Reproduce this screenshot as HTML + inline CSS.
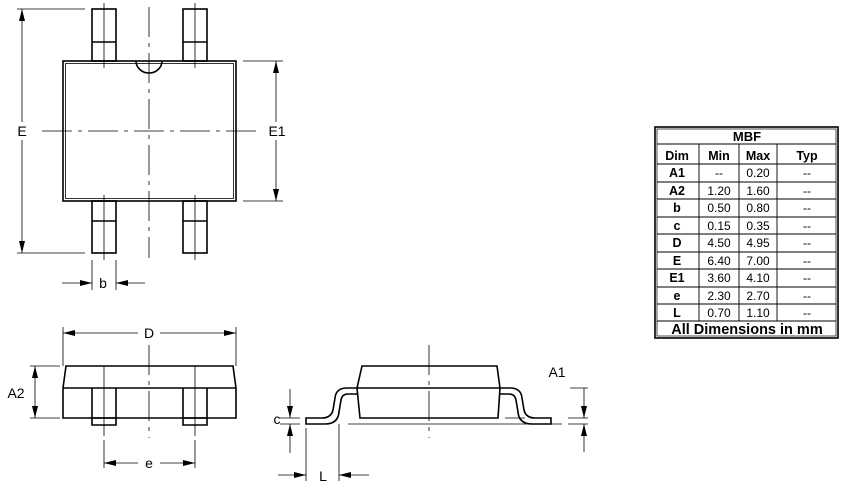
<!DOCTYPE html>
<html><head><meta charset="utf-8"><style>
html,body{margin:0;padding:0;background:#fff;}
svg{display:block;font-family:"Liberation Sans",Arial,sans-serif;}
</style></head><body>
<svg width="850" height="487" viewBox="0 0 850 487" xmlns="http://www.w3.org/2000/svg">
<defs>
<marker id="ar" viewBox="0 0 12 6" refX="12" refY="3" markerWidth="12" markerHeight="6" orient="auto" markerUnits="userSpaceOnUse"><path d="M0,0 L12,3 L0,6 Z" fill="#000"/></marker>
</defs>
<g stroke="#000" fill="none">
<g stroke-width="1.6">
<rect x="63" y="61" width="173" height="140"/>
<rect x="92" y="9" width="24" height="52"/><line x1="92" y1="42" x2="116" y2="42"/>
<rect x="183" y="9" width="24" height="52"/><line x1="183" y1="42" x2="207" y2="42"/>
<rect x="92" y="201" width="24" height="52"/><line x1="92" y1="221" x2="116" y2="221"/>
<rect x="183" y="201" width="24" height="52"/><line x1="183" y1="221" x2="207" y2="221"/>
<path d="M136 61 A13 12 0 0 0 162 61"/>
</g>
<rect x="65.5" y="63.5" width="168" height="135" stroke-width="0.8"/>
<g stroke-width="0.8">
<line x1="149" y1="7" x2="149" y2="258" stroke-dasharray="30,6,4,6"/>
<line x1="42" y1="131" x2="258" y2="131" stroke-dasharray="30,6,4,6"/>
<line x1="104" y1="3" x2="104" y2="68"/><line x1="195" y1="3" x2="195" y2="68"/>
<line x1="104" y1="195" x2="104" y2="260"/><line x1="195" y1="195" x2="195" y2="260"/>
<line x1="17" y1="9" x2="85" y2="9"/><line x1="17" y1="253" x2="85" y2="253"/>
<line x1="22" y1="122" x2="22" y2="9" marker-end="url(#ar)"/><line x1="22" y1="140" x2="22" y2="253" marker-end="url(#ar)"/>
<line x1="243" y1="61" x2="283" y2="61"/><line x1="243" y1="201" x2="283" y2="201"/>
<line x1="276" y1="122" x2="276" y2="61" marker-end="url(#ar)"/><line x1="276" y1="140" x2="276" y2="201" marker-end="url(#ar)"/>
<line x1="92" y1="260" x2="92" y2="290"/><line x1="116" y1="260" x2="116" y2="290"/>
<line x1="62" y1="283" x2="92" y2="283" marker-end="url(#ar)"/><line x1="145" y1="283" x2="116" y2="283" marker-end="url(#ar)"/>
</g>
<g stroke-width="1.6">
<path d="M66 366 L233 366 L236 388 L236 418 L63 418 L63 388 Z"/>
<line x1="63" y1="388" x2="236" y2="388"/>
<path d="M92 418 V425 H116 V418 M92 388 V418 M116 388 V418"/>
<path d="M183 418 V425 H207 V418 M183 388 V418 M207 388 V418"/>
<line x1="92" y1="418" x2="116" y2="418"/><line x1="183" y1="418" x2="207" y2="418"/>
</g>
<g stroke-width="0.8">
<line x1="63" y1="327" x2="63" y2="366"/><line x1="236" y1="327" x2="236" y2="366"/>
<line x1="138" y1="333" x2="63" y2="333" marker-end="url(#ar)"/><line x1="160" y1="333" x2="236" y2="333" marker-end="url(#ar)"/>
<line x1="149" y1="345" x2="149" y2="438" stroke-dasharray="30,6,4,6"/>
<line x1="104" y1="366" x2="104" y2="436"/><line x1="195" y1="366" x2="195" y2="436"/>
<line x1="104" y1="440" x2="104" y2="468"/><line x1="195" y1="440" x2="195" y2="468"/>
<line x1="138" y1="463" x2="104" y2="463" marker-end="url(#ar)"/><line x1="160" y1="463" x2="195" y2="463" marker-end="url(#ar)"/>
<line x1="30" y1="366" x2="60" y2="366"/><line x1="30" y1="418" x2="60" y2="418"/>
<line x1="35" y1="392" x2="35" y2="366" marker-end="url(#ar)"/><line x1="35" y1="392" x2="35" y2="418" marker-end="url(#ar)"/>
</g>
<g stroke-width="1.6">
<path d="M362 366 L497 366 L500 388 L498 418 L360 418 L357 388 Z"/>
<line x1="357" y1="388" x2="500" y2="388"/>
<path d="M357 388 L347 388 Q336 388 335 398 L333 410 Q331 418 322 418 L306 418 L306 424 L325 424 Q338 424 339 412 L341 400 Q342 394 348 394 L358 394"/>
<path d="M500 388 L510 388 Q521 388 522 398 L524 410 Q526 418 535 418 L551 418 L551 424 L532 424 Q519 424 518 412 L516 400 Q515 394 509 394 L499 394"/>
</g>
<g stroke-width="0.8">
<line x1="429" y1="345" x2="429" y2="438" stroke-dasharray="30,6,4,6"/>
<line x1="348" y1="424" x2="562" y2="424"/>
<line x1="505" y1="418" x2="525" y2="418"/>
<line x1="280" y1="418" x2="300" y2="418"/><line x1="280" y1="424" x2="300" y2="424"/>
<line x1="290" y1="389" x2="290" y2="418" marker-end="url(#ar)"/><line x1="290" y1="453" x2="290" y2="424" marker-end="url(#ar)"/>
<line x1="306" y1="428" x2="306" y2="481"/><line x1="339" y1="424" x2="339" y2="481"/>
<line x1="278" y1="475" x2="306" y2="475" marker-end="url(#ar)"/><line x1="369" y1="475" x2="339" y2="475" marker-end="url(#ar)"/>
<line x1="570" y1="388" x2="588" y2="388"/><line x1="568" y1="418" x2="588" y2="418"/><line x1="568" y1="424" x2="588" y2="424"/>
<line x1="584" y1="388" x2="584" y2="418" marker-end="url(#ar)"/><line x1="584" y1="452" x2="584" y2="424" marker-end="url(#ar)"/>
</g>
<rect x="655" y="127" width="183" height="211" stroke-width="1.6"/>
<rect x="657" y="129" width="179" height="207" stroke-width="0.7"/>
<g stroke-width="0.9">
<line x1="657" y1="144" x2="836" y2="144"/>
<line x1="657" y1="164" x2="836" y2="164"/>
<line x1="657" y1="182" x2="836" y2="182"/>
<line x1="657" y1="199" x2="836" y2="199"/>
<line x1="657" y1="217" x2="836" y2="217"/>
<line x1="657" y1="234" x2="836" y2="234"/>
<line x1="657" y1="252" x2="836" y2="252"/>
<line x1="657" y1="269" x2="836" y2="269"/>
<line x1="657" y1="287" x2="836" y2="287"/>
<line x1="657" y1="304" x2="836" y2="304"/>
<line x1="657" y1="321" x2="836" y2="321"/>
<line x1="699" y1="144" x2="699" y2="321"/>
<line x1="739" y1="144" x2="739" y2="321"/>
<line x1="777" y1="144" x2="777" y2="321"/>
</g>
</g>
<g font-size="14" fill="#000" text-anchor="middle">
<text x="22" y="136">E</text>
<text x="277" y="136">E1</text>
<text x="103" y="288">b</text>
<text x="149" y="338">D</text>
<text x="149" y="468">e</text>
<text x="16" y="398">A2</text>
<text x="277" y="424">c</text>
<text x="323" y="481">L</text>
<text x="557" y="377">A1</text>
</g>
<g font-size="12" fill="#000" text-anchor="middle">
<text x="747" y="141" font-weight="bold" font-size="13">MBF</text>
<g font-weight="bold" font-size="12.5"><text x="677" y="160">Dim</text><text x="719" y="160">Min</text><text x="758" y="160">Max</text><text x="807" y="160">Typ</text></g>
<g font-weight="bold" font-size="12.5">
<text x="677" y="177">A1</text><text x="677" y="195">A2</text><text x="677" y="212">b</text><text x="677" y="230">c</text><text x="677" y="247">D</text><text x="677" y="265">E</text><text x="677" y="282">E1</text><text x="677" y="300">e</text><text x="677" y="317">L</text>
</g>
<text x="719" y="177">--</text><text x="758" y="177">0.20</text><text x="807" y="177">--</text>
<text x="719" y="195">1.20</text><text x="758" y="195">1.60</text><text x="807" y="195">--</text>
<text x="719" y="212">0.50</text><text x="758" y="212">0.80</text><text x="807" y="212">--</text>
<text x="719" y="230">0.15</text><text x="758" y="230">0.35</text><text x="807" y="230">--</text>
<text x="719" y="247">4.50</text><text x="758" y="247">4.95</text><text x="807" y="247">--</text>
<text x="719" y="265">6.40</text><text x="758" y="265">7.00</text><text x="807" y="265">--</text>
<text x="719" y="282">3.60</text><text x="758" y="282">4.10</text><text x="807" y="282">--</text>
<text x="719" y="300">2.30</text><text x="758" y="300">2.70</text><text x="807" y="300">--</text>
<text x="719" y="317">0.70</text><text x="758" y="317">1.10</text><text x="807" y="317">--</text>
<text x="747" y="334" font-weight="bold" font-size="14.5">All Dimensions in mm</text>
</g>
</svg>
</body></html>
